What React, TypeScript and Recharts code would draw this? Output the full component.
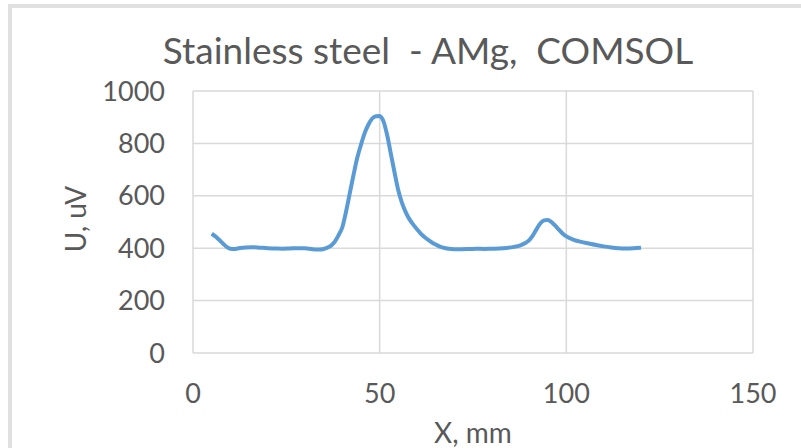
import React from "react";
import {
  LineChart,
  Line,
  XAxis,
  YAxis,
  CartesianGrid,
  Label
} from "recharts";

// probe position X (mm)
const xMm = [
  5, 6, 7, 8, 9, 10, 11, 12, 14, 16, 18, 20, 22, 24, 26, 28, 30, 32, 33, 34,
  35, 36, 37, 38, 39, 40, 41, 42, 43, 44, 45, 46, 47, 48, 49, 50, 51, 52, 53,
  54, 55, 56, 57, 58, 59, 60, 61, 62, 63, 64, 65, 66, 67, 68, 70, 72, 74, 76,
  78, 80, 82, 84, 86, 87, 88, 89, 90, 91, 92, 93, 94, 95, 96, 97, 98, 99, 100,
  101, 102, 104, 106, 108, 110, 112, 114, 116, 118, 120
];

// signal U (uV)
const uMicroV = [
  455, 445, 432, 418, 405, 398, 397, 399, 403, 404, 402, 400, 399, 398, 399,
  400, 400, 396, 395, 395, 397, 402, 410, 425, 450, 480, 540, 610, 680, 745,
  795, 840, 872, 895, 904, 905, 885, 832, 760, 688, 620, 572, 537, 510, 490,
  472, 456, 443, 432, 422, 414, 407, 402, 399, 396, 396, 397, 398, 397, 398,
  399, 401, 405, 408, 413, 420, 430, 448, 472, 494, 506, 508, 500, 486, 471,
  456, 445, 438, 432, 424, 418, 412, 407, 403, 400, 399, 400, 402
];

const xTicks = [0, 50, 100, 150];
const yTicks = [0, 200, 400, 600, 800, 1000];

const data = xMm.map((x, i) => ({ x, u: uMicroV[i] }));

const FONT = "Lato, 'Open Sans', sans-serif";
const TEXT = "#595959";

export default function App() {
  return (
    <div
      style={{
        position: "absolute",
        left: 0,
        top: 0,
        width: 801,
        height: 448,
        background: "#fff",
        overflow: "hidden",
        fontFamily: FONT
      }}
    >
      {/* chart area frame */}
      <div
        style={{
          position: "absolute",
          left: 8,
          top: 4,
          width: 820,
          height: 440,
          borderTop: "4px solid #e0e0e0",
          borderLeft: "4px solid #e0e0e0",
          borderBottom: "2px solid #ececec"
        }}
      />
      <div
        style={{
          position: "absolute",
          left: 0,
          width: 856,
          top: 30,
          textAlign: "center",
          fontSize: 37,
          lineHeight: "40px",
          color: TEXT,
          whiteSpace: "pre"
        }}
      >
        Stainless steel  - AMg,  COMSOL
      </div>
      <div style={{ position: "absolute", left: 0, top: 0 }}>
        <LineChart
          width={801}
          height={448}
          data={data}
          margin={{ top: 91, right: 48, left: 0, bottom: 0 }}
        >
          <CartesianGrid stroke="#d9d9d9" strokeWidth={1.5} />
          <XAxis
            dataKey="x"
            type="number"
            domain={[0, 150]}
            ticks={xTicks}
            axisLine={false}
            tickLine={false}
            tickSize={0}
            tickMargin={31}
            height={95}
            tick={{ fill: TEXT, fontSize: 27, fontFamily: FONT }}
          >
            <Label
              content={({ viewBox }: any) => (
                <text
                  x={viewBox.x + viewBox.width / 2}
                  y={viewBox.y + 90}
                  textAnchor="middle"
                  fill={TEXT}
                  fontSize={28}
                  fontFamily={FONT}
                >
                  X, mm
                </text>
              )}
            />
          </XAxis>
          <YAxis
            type="number"
            domain={[0, 1000]}
            ticks={yTicks}
            axisLine={false}
            tickLine={false}
            tickSize={0}
            tickMargin={28}
            width={193}
            tick={{ fill: TEXT, fontSize: 27, fontFamily: FONT }}
          >
            <Label
              content={({ viewBox }: any) => {
                const cx = viewBox.x + 76;
                const cy = viewBox.y + viewBox.height / 2 - 3;
                return (
                  <text
                    x={cx}
                    y={cy}
                    dy="0.35em"
                    textAnchor="middle"
                    transform={`rotate(-90, ${cx}, ${cy})`}
                    fill={TEXT}
                    fontSize={28}
                    fontFamily={FONT}
                  >
                    U, uV
                  </text>
                );
              }}
            />
          </YAxis>
          <Line
            type="monotone"
            dataKey="u"
            stroke="#5B9BD5"
            strokeWidth={4}
            dot={false}
            isAnimationActive={false}
          />
        </LineChart>
      </div>
    </div>
  );
}
